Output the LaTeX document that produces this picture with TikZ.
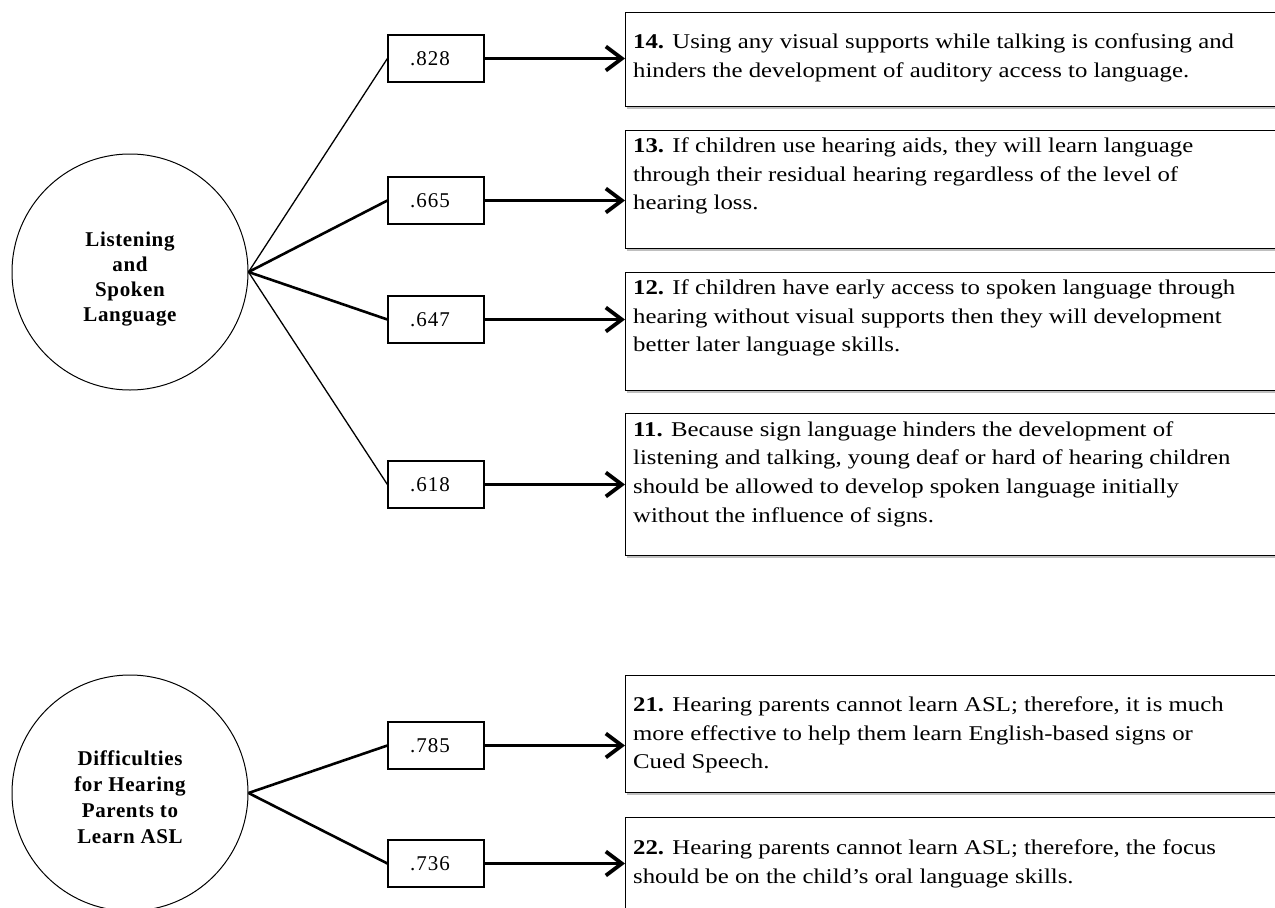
\documentclass[tikz,border=0pt]{standalone}
\usepackage{fontspec}
\setmainfont{Liberation Serif}
\newfontfamily\boxfont[FakeStretch=1.18]{Liberation Serif}
\newfontfamily\circfont[LetterSpace=3]{Liberation Serif}
\newfontfamily\numfont[LetterSpace=5]{Liberation Serif}
\usetikzlibrary{arrows.meta,shadows}
\tikzset{
  factor/.style={circle,draw,line width=1pt,minimum size=236pt,inner sep=0pt,
    font=\circfont\bfseries\fontsize{21}{25}\selectfont,align=center},
  loadbox/.style={rectangle,draw,line width=1.2pt,minimum width=96pt,minimum height=47pt,
    inner sep=0pt,font=\numfont\fontsize{21}{24}\selectfont,fill=white},
  itembox/.style={rectangle,draw,line width=1.3pt,minimum width=680pt,anchor=north west,
    inner sep=0pt,fill=white,
    drop shadow={shadow xshift=1.5pt,shadow yshift=-2.5pt,opacity=0.25,fill=black}},
  itemtext/.style={anchor=west,align=left,inner sep=0pt,
    font=\boxfont\fontsize{21}{28.7}\selectfont},
  thinlink/.style={line width=1.3pt},
  thicklink/.style={line width=2.6pt},
  toitem/.style={line width=2.6pt,-{Straight Barb[length=16pt,width=24pt,line width=3.8pt]}},
}
\begin{document}
\begin{tikzpicture}[x=1pt,y=-1pt]
\useasboundingbox (0,0) rectangle (1275,908);
% factors
\node[factor] (c1) at (130,272) {\rule{0pt}{29pt}Listening\\and\\Spoken\\Language};
\node[factor] (c2) at (130,793) {\rule{0pt}{24pt}Difficulties\\[1pt]for Hearing\\[1pt]Parents to\\[1pt]Learn ASL};
% loading boxes
\node[loadbox] (v14) at (436,58.5) {.828\hspace*{12pt}};
\node[loadbox] (v13) at (436,200.5) {.665\hspace*{12pt}};
\node[loadbox] (v12) at (436,319.5) {.647\hspace*{12pt}};
\node[loadbox] (v11) at (436,484.5) {.618\hspace*{12pt}};
\node[loadbox] (v21) at (436,745.5) {.785\hspace*{12pt}};
\node[loadbox] (v22) at (436,863.5) {.736\hspace*{12pt}};
% item boxes
\node[itembox,minimum height=94pt] (t14) at (625,12) {};
\node[itembox,minimum height=118pt] (t13) at (625,130) {};
\node[itembox,minimum height=118pt] (t12) at (625,272) {};
\node[itembox,minimum height=142pt] (t11) at (625,413) {};
\node[itembox,minimum height=117pt] (t21) at (625,675) {};
\node[itembox,minimum height=120pt] (t22) at (625,817) {};
% item texts
\node[itemtext] (x14) at (633,58) {\textbf{14.} Using any visual supports while talking is confusing and\\hinders the development of auditory access to language.};
\node[itemtext] (x13) at (633,176) {\textbf{13.} If children use hearing aids, they will learn language\\through their residual hearing regardless of the level of\\hearing loss.};
\node[itemtext] (x12) at (633,318) {\textbf{12.} If children have early access to spoken language through\\hearing without visual supports then they will development\\better later language skills.};
\node[itemtext] (x11) at (633,474) {\textbf{11.} Because sign language hinders the development of\\listening and talking, young deaf or hard of hearing children\\should be allowed to develop spoken language initially\\without the influence of signs.};
\node[itemtext] (x21) at (633,735) {\textbf{21.} Hearing parents cannot learn ASL; therefore, it is much\\more effective to help them learn English-based signs or\\Cued Speech.};
\node[itemtext] (x22) at (633,864) {\textbf{22.} Hearing parents cannot learn ASL; therefore, the focus\\should be on the child’s oral language skills.};
% links factor -> loadings
\draw[thinlink] (c1.east) -- (v14.west);
\draw[thicklink] (c1.east) -- (v13.west);
\draw[thicklink] (c1.east) -- (v12.west);
\draw[thinlink] (c1.east) -- (v11.west);
\draw[thicklink] (c2.east) -- (v21.west);
\draw[thicklink] (c2.east) -- (v22.west);
% arrows loadings -> items
\draw[toitem] (v14.east) -- (v14.east -| t14.west);
\draw[toitem] (v13.east) -- (v13.east -| t13.west);
\draw[toitem] (v12.east) -- (v12.east -| t12.west);
\draw[toitem] (v11.east) -- (v11.east -| t11.west);
\draw[toitem] (v21.east) -- (v21.east -| t21.west);
\draw[toitem] (v22.east) -- (v22.east -| t22.west);
\end{tikzpicture}
\end{document}
